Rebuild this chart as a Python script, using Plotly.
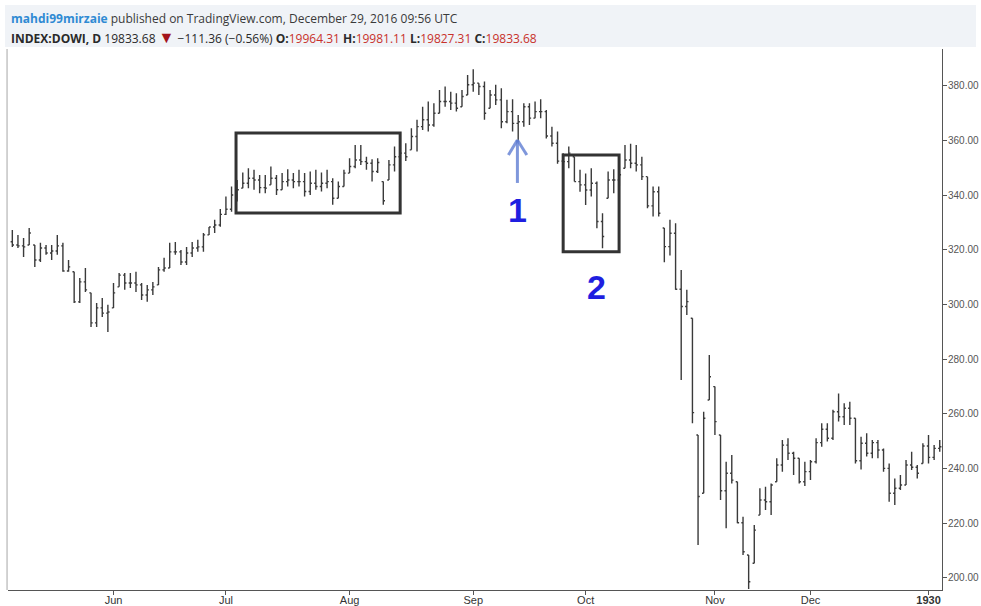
import pandas as pd
import plotly.graph_objects as go

# Daily bars, INDEX:DOWI, May 1929 - Jan 1930
HOLIDAYS = ["1929-05-30", "1929-07-04", "1929-09-02", "1929-11-01", "1929-11-05",
            "1929-11-28", "1929-11-29", "1929-12-25", "1930-01-01"]
dates = [d.strftime("%Y-%m-%d") for d in
         pd.bdate_range("1929-05-07", "1930-01-06", freq="C", holidays=HOLIDAYS)]

opens = [
    323.0, 321.8, 321.5, 321.8, 321.8, 316.3, 320.7, 318.9, 319.6, 321.5,
    312.3, 312.0, 301.0, 308.3, 304.3, 293.3, 298.8, 296.9, 298.8, 306.5,
    310.8, 307.9, 307.9, 307.2, 303.5, 305.4, 307.2, 312.7, 313.4, 319.3,
    319.3, 315.6, 318.9, 320.7, 321.1, 325.5, 328.4, 329.1, 333.0, 334.9,
    340.1, 342.6, 344.4, 346.2, 345.6, 342.8, 343.8, 346.2, 342.0, 345.0,
    345.6, 345.0, 345.0, 341.4, 344.4, 343.2, 344.4, 345.0, 338.9, 343.2,
    348.1, 350.5, 352.9, 352.3, 351.7, 348.7, 345.0, 345.6, 351.1, 354.1,
    355.4, 356.6, 361.5, 365.1, 367.6, 365.7, 370.0, 374.3, 374.3, 373.7,
    372.4, 376.7, 380.4, 381.0, 379.8, 371.8, 376.7, 374.9, 366.9, 370.6,
    366.3, 366.9, 372.4, 368.2, 370.6, 370.6, 361.7, 359.0, 352.5, 352.3,
    354.1, 345.0, 343.8, 341.9, 344.4, 330.4, 338.9, 345.6, 345.6, 349.9,
    352.9, 351.7, 351.1, 346.8, 336.1, 341.3, 328.0, 321.2, 326.1, 305.6,
    299.3, 295.0, 252.3, 231.0, 265.1, 270.0, 252.3, 231.9, 238.3, 235.2,
    220.2, 208.4, 205.4, 223.0, 228.5, 227.9, 235.2, 241.3, 248.6, 245.6,
    243.8, 235.2, 238.9, 242.5, 249.5, 254.4, 251.1, 260.8, 259.0, 262.1,
    258.4, 242.9, 249.3, 245.6, 249.5, 246.8, 240.1, 231.0, 232.8, 234.0,
    241.3, 240.5, 241.9, 248.3, 244.1, 247.4,
]
highs = [
    327.3, 325.5, 324.4, 328.0, 321.8, 322.6, 321.8, 321.8, 325.5, 322.6,
    316.3, 312.0, 309.7, 313.4, 304.3, 300.6, 302.4, 299.9, 307.9, 311.6,
    311.6, 311.6, 312.0, 307.9, 307.2, 308.3, 313.8, 317.1, 322.6, 322.9,
    320.0, 321.1, 322.9, 323.7, 326.2, 328.4, 331.0, 335.0, 339.5, 343.2,
    345.6, 348.3, 349.9, 349.3, 347.4, 347.4, 350.5, 347.4, 348.1, 349.5,
    348.1, 349.3, 348.1, 348.7, 349.3, 348.3, 349.3, 346.2, 345.0, 349.3,
    353.5, 358.4, 358.4, 354.1, 353.2, 353.5, 345.0, 352.9, 357.8, 356.6,
    359.0, 364.5, 367.6, 372.4, 374.3, 373.7, 378.5, 379.8, 377.9, 377.3,
    378.5, 384.0, 386.1, 381.0, 381.6, 378.5, 380.4, 379.1, 374.9, 375.1,
    369.4, 373.7, 373.7, 374.3, 375.1, 371.2, 365.1, 363.3, 355.4, 357.8,
    354.1, 349.3, 348.0, 349.9, 345.0, 333.4, 348.7, 349.5, 350.5, 358.4,
    358.8, 358.4, 354.1, 346.8, 343.2, 343.2, 328.0, 331.0, 329.8, 312.7,
    305.4, 295.0, 252.3, 260.8, 281.6, 270.0, 252.3, 242.5, 245.0, 235.2,
    222.4, 208.4, 219.4, 232.8, 233.4, 234.6, 243.8, 250.5, 251.1, 246.2,
    243.8, 242.5, 243.2, 251.1, 256.6, 256.6, 261.5, 267.5, 263.9, 264.5,
    258.4, 251.7, 252.9, 250.5, 250.5, 247.4, 241.9, 236.4, 237.7, 243.2,
    246.2, 241.3, 249.3, 252.3, 248.6, 250.5,
]
lows = [
    321.1, 320.7, 317.4, 321.8, 313.8, 315.6, 318.2, 316.3, 318.2, 312.0,
    312.0, 300.6, 300.6, 304.6, 291.8, 291.8, 295.5, 290.0, 298.8, 306.5,
    305.4, 306.1, 304.6, 301.7, 301.0, 303.5, 307.2, 312.0, 313.4, 318.2,
    314.5, 314.5, 317.4, 319.3, 319.3, 325.5, 326.2, 328.5, 332.8, 334.0,
    337.7, 342.6, 342.6, 342.0, 340.7, 340.7, 343.8, 340.1, 342.0, 343.2,
    342.6, 343.2, 339.5, 340.1, 342.0, 341.4, 342.6, 336.5, 338.9, 343.2,
    348.1, 349.9, 351.1, 349.3, 345.0, 348.1, 336.5, 345.6, 348.7, 354.1,
    352.5, 356.6, 356.0, 363.9, 363.3, 365.1, 370.0, 372.4, 371.2, 370.6,
    372.4, 376.7, 377.9, 376.7, 367.6, 371.8, 373.0, 364.5, 366.3, 363.3,
    359.6, 365.1, 365.7, 368.2, 368.2, 360.8, 357.8, 351.5, 345.0, 349.9,
    345.0, 341.3, 336.4, 339.5, 327.9, 320.6, 338.9, 340.7, 343.5, 349.9,
    349.9, 348.7, 345.6, 335.2, 332.2, 332.2, 315.5, 318.0, 305.4, 272.4,
    296.2, 256.6, 212.1, 231.0, 265.1, 252.3, 228.5, 218.2, 234.6, 220.0,
    208.4, 196.0, 205.4, 223.0, 224.9, 223.0, 235.2, 238.9, 243.2, 237.7,
    234.6, 233.6, 235.8, 241.9, 248.0, 249.9, 250.5, 257.2, 256.0, 256.0,
    241.9, 239.7, 244.4, 243.8, 243.8, 238.9, 227.9, 226.7, 232.2, 234.0,
    239.5, 236.4, 241.9, 241.9, 243.2, 246.2,
]
closes = [
    321.8, 321.5, 321.1, 326.2, 316.3, 320.7, 318.9, 319.6, 321.5, 312.3,
    313.8, 301.0, 308.3, 305.4, 293.3, 298.8, 296.9, 297.3, 304.3, 310.8,
    307.9, 307.9, 307.2, 303.5, 305.4, 306.5, 312.7, 313.4, 319.3, 319.3,
    315.6, 318.9, 320.7, 321.1, 325.5, 328.4, 329.1, 333.0, 334.9, 340.1,
    342.0, 344.4, 346.2, 345.6, 342.8, 342.6, 346.2, 342.0, 345.0, 345.6,
    345.0, 345.0, 341.4, 344.4, 343.2, 344.4, 345.0, 338.9, 343.2, 348.1,
    350.5, 352.9, 352.3, 351.7, 348.7, 352.0, 338.0, 351.1, 354.1, 355.4,
    354.1, 361.5, 365.1, 367.6, 365.7, 370.0, 374.3, 374.3, 373.7, 371.8,
    376.1, 380.4, 381.0, 379.8, 370.0, 376.7, 374.9, 366.9, 370.6, 366.3,
    366.9, 372.4, 368.2, 370.6, 370.6, 361.7, 359.0, 352.5, 352.3, 355.4,
    345.0, 343.8, 341.9, 344.4, 330.4, 324.9, 345.6, 345.6, 347.5, 352.9,
    351.7, 351.1, 346.8, 336.1, 341.3, 333.4, 321.2, 326.1, 305.6, 299.3,
    301.1, 260.5, 229.8, 258.4, 273.6, 257.2, 231.9, 238.3, 235.8, 220.2,
    209.6, 198.6, 217.5, 228.5, 227.9, 234.0, 241.3, 248.6, 245.6, 243.8,
    235.2, 238.9, 242.5, 249.5, 254.4, 251.1, 260.8, 259.0, 262.1, 258.4,
    242.9, 249.3, 245.6, 249.5, 246.8, 240.1, 231.0, 232.8, 234.0, 241.3,
    240.5, 238.3, 248.3, 244.1, 247.4, 248.0,
]

month_ticks = ["1929-06-03", "1929-07-01", "1929-08-01", "1929-09-03",
               "1929-10-01", "1929-11-04", "1929-12-02", "1930-01-02"]
month_labels = ["Jun", "Jul", "Aug", "Sep", "Oct", "Nov", "Dec", "<b>1930</b>"]
price_ticks = [200, 220, 240, 260, 280, 300, 320, 340, 360, 380]

# drawings on the chart: (bar index from, bar index to, price low, price high)
box_1 = (39.8, 69.0, 333.5, 362.8)
box_2 = (98.0, 107.95, 319.3, 354.75)
arrow_x, arrow_tail, arrow_tip, arrow_wing = 89.86, 344.5, 360.2, 354.75

BAR_COLOR = "#3a3a3a"
RED = "#c8312b"

fig = go.Figure(go.Ohlc(
    x=dates, open=opens, high=highs, low=lows, close=closes,
    increasing=dict(line=dict(color=BAR_COLOR, width=1.4)),
    decreasing=dict(line=dict(color=BAR_COLOR, width=1.4)),
    tickwidth=0.3,
    hoverinfo="x+y",
    showlegend=False,
))

shapes = [
    # header strip
    dict(type="rect", xref="paper", yref="paper", x0=-0.0032, x1=1.0364,
         y0=1.0037, y1=1.0813, fillcolor="#f0f3f7", line_width=0, layer="below"),
    # left frame
    dict(type="line", xref="paper", yref="paper", x0=-0.001, x1=-0.001, y0=0, y1=1,
         line=dict(color="#c4c4c4", width=1.5)),
]
for b in (box_1, box_2):
    shapes.append(dict(type="rect", xref="x", yref="y", x0=b[0], x1=b[1], y0=b[2], y1=b[3],
                       line=dict(color="#333333", width=3)))
arrow_style = dict(color="rgba(95,125,210,0.8)", width=3)
shapes += [
    dict(type="line", xref="x", yref="y", x0=arrow_x, x1=arrow_x,
         y0=arrow_tail, y1=arrow_tip, line=arrow_style),
    dict(type="line", xref="x", yref="y", x0=arrow_x - 1.6, x1=arrow_x,
         y0=arrow_wing, y1=arrow_tip, line=arrow_style),
    dict(type="line", xref="x", yref="y", x0=arrow_x + 1.67, x1=arrow_x,
         y0=arrow_wing, y1=arrow_tip, line=arrow_style),
]

header_1 = ('<b><span style="color:#2f8ad3">mahdi99mirzaie</span></b>'
            ' published on TradingView.com, December 29, 2016 09:56 UTC')
header_2 = ('<b>INDEX:DOWI, D</b> 19833.68 '
            '<span style="color:#a3141c;font-size:16px">▼</span>'
            ' −111.36 (−0.56%)'
            f' <b>O:</b><span style="color:{RED}">19964.31</span>'
            f' <b>H:</b><span style="color:{RED}">19981.11</span>'
            f' <b>L:</b><span style="color:{RED}">19827.31</span>'
            f' <b>C:</b><span style="color:{RED}">19833.68</span>')

annotations = [
    dict(text=header_1, xref="paper", yref="paper", x=0.001, y=1.0573,
         xanchor="left", yanchor="middle", showarrow=False,
         font=dict(family="Open Sans", size=12, color="#3a3a3a")),
    dict(text=header_2, xref="paper", yref="paper", x=0.001, y=1.0222,
         xanchor="left", yanchor="middle", showarrow=False,
         font=dict(family="Open Sans", size=12, color="#2a2a2a")),
    dict(text="<b>1</b>", x=89.8, y=334.6, xref="x", yref="y", showarrow=False,
         font=dict(family="Arial", size=34, color="#1f1fe0")),
    dict(text="<b>2</b>", x=103.9, y=306.5, xref="x", yref="y", showarrow=False,
         font=dict(family="Arial", size=34, color="#1f1fe0")),
]

fig.update_layout(
    width=981, height=606,
    margin=dict(l=8, r=39, t=49, b=16),
    paper_bgcolor="white", plot_bgcolor="white",
    shapes=shapes, annotations=annotations,
    xaxis=dict(
        type="category", range=[-0.77, 165.4],
        rangeslider=dict(visible=False),
        tickmode="array", tickvals=month_ticks, ticktext=month_labels,
        ticks="outside", ticklen=4, tickcolor="#555",
        ticklabelstandoff=-4,
        showline=True, linecolor="#555", linewidth=1,
        showgrid=False, zeroline=False, automargin=False,
        tickfont=dict(family="Arial", size=11, color="#333"),
    ),
    yaxis=dict(
        side="right", range=[195.6, 393.5],
        tickmode="array", tickvals=price_ticks, tickformat=".2f",
        ticks="outside", ticklen=4, tickcolor="#555",
        ticklabelstandoff=-1,
        showline=True, linecolor="#555", linewidth=1,
        showgrid=False, zeroline=False, automargin=False,
        tickfont=dict(family="Arial", size=10, color="#555"),
    ),
)

# page body has a default 8px margin; remove it so the figure fills the window
fig.write_html("out.html", config={"displayModeBar": False},
               post_script="document.body.style.margin='0';document.body.style.overflow='hidden';")
